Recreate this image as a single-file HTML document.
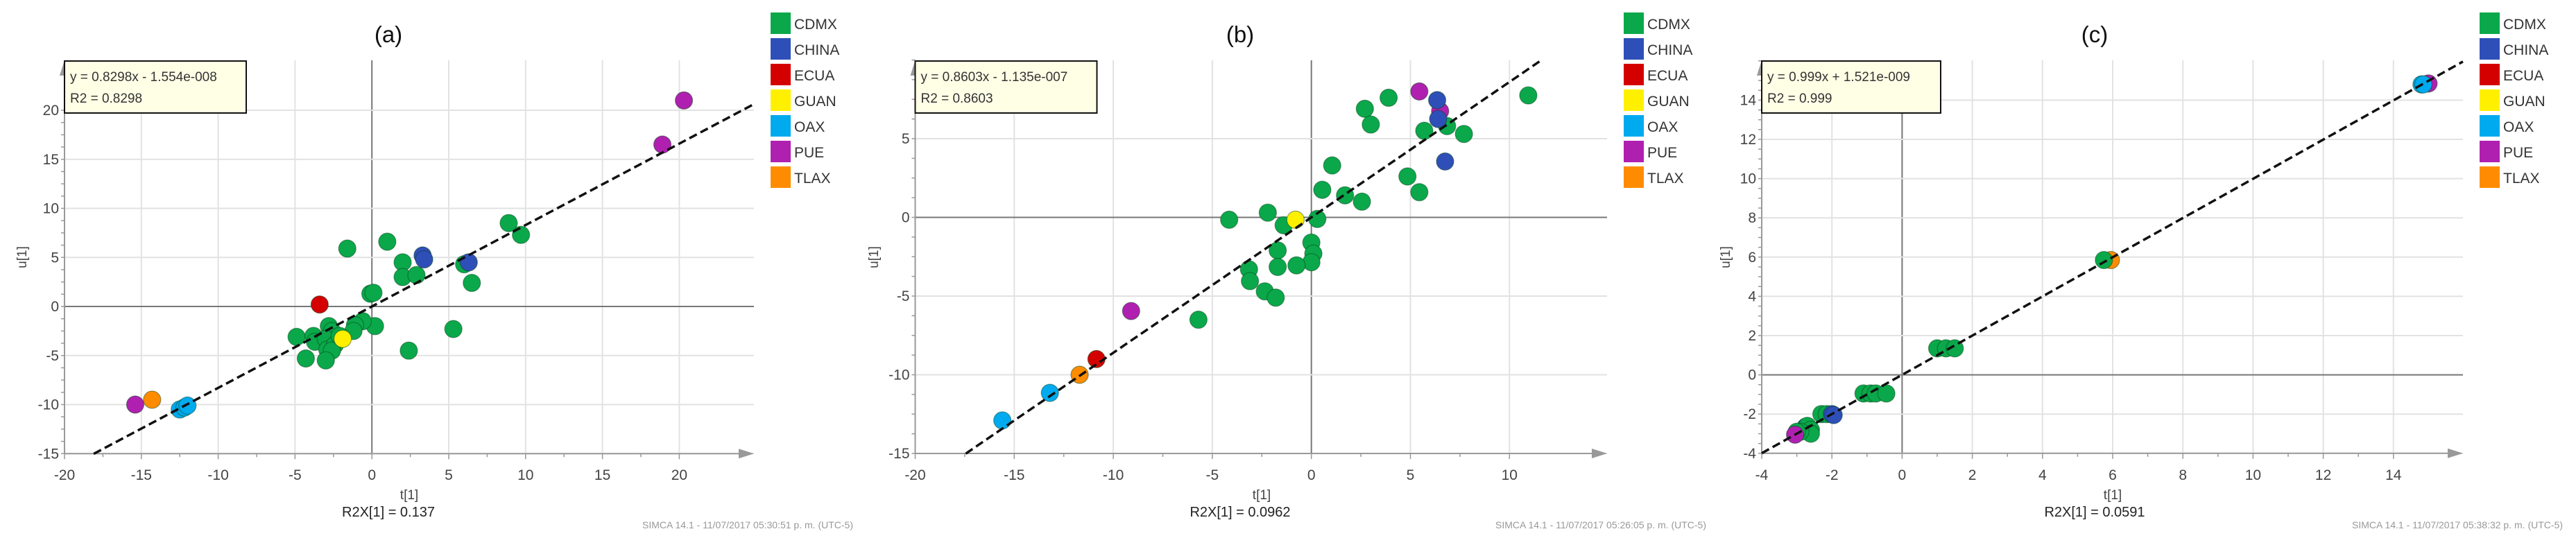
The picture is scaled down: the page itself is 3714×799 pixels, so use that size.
<!DOCTYPE html>
<html><head><meta charset="utf-8"><style>
html,body{margin:0;padding:0;background:#fff;width:3714px;height:799px;overflow:hidden}
svg{display:block}
text{font-family:"Liberation Sans",sans-serif}
</style></head><body>
<svg id="chart" width="3714" height="799" viewBox="0 0 3714 799" xmlns="http://www.w3.org/2000/svg"></svg>
<script>
const groupNames=["CDMX","CHINA","ECUA","GUAN","OAX","PUE","TLAX"];
const groupColors=["#0aa84a","#2f4fb8","#d40000","#fff000","#00aaee","#b020b0","#ff8c00"];

// Panel (a)
const aX=[-1.6,1.0,2.0,2.0,2.9,-0.1,0.1,6.0,6.5,8.9,9.7,5.3,2.4,0.2,-0.6,-1.1,-1.2,-2.8,-2.6,-4.9,-3.8,-3.7,-3.0,-2.9,-2.4,-2.6,-4.3,-3.0,-2.1, 3.3,3.4,6.3, -3.4, -1.9, -12.5,-12.2,-12.0, 20.3,18.9,-15.4, -14.3];
const aY=[5.9,6.6,4.5,3.0,3.2,1.3,1.4,4.3,2.4,8.5,7.3,-2.3,-4.5,-2.0,-1.5,-1.9,-2.5,-2.0,-2.5,-3.1,-3.0,-3.6,-3.3,-4.4,-3.9,-4.5,-5.3,-5.5,-3.0, 5.2,4.8,4.5, 0.2, -3.3, -10.5,-10.3,-10.1, 21,16.5,-10, -9.5];
const aG=[0,0,0,0,0,0,0,0,0,0,0,0,0,0,0,0,0,0,0,0,0,0,0,0,0,0,0,0,0, 1,1,1, 2, 3, 4,4,4, 5,5,5, 6];
const aXTicks=[-20,-15,-10,-5,0,5,10,15,20];
const aYTicks=[-15,-10,-5,0,5,10,15,20];

// Panel (b)
const bX=[10.95,3.9,2.7,3.0,5.7,6.85,7.7,1.05,4.85,5.45,0.55,1.7,2.55,-4.15,-2.2,-1.4,0.3,0.0,0.1,0.0,-0.75,-1.7,-1.7,-3.15,-3.1,-2.35,-1.8,-5.7, 5.45,6.5,-9.1, 6.35,6.4,6.75, -0.8, -10.85, -11.7, -13.2,-15.6];
const bY=[7.75,7.6,6.9,5.9,5.5,5.8,5.3,3.3,2.6,1.6,1.75,1.4,1.0,-0.15,0.3,-0.5,-0.1,-1.6,-2.3,-2.85,-3.05,-2.1,-3.15,-3.3,-4.05,-4.7,-5.1,-6.5, 8.0,6.75,-5.95, 7.45,6.25,3.55, -0.15, -9.0, -10.0, -11.15,-12.9];
const bG=[0,0,0,0,0,0,0,0,0,0,0,0,0,0,0,0,0,0,0,0,0,0,0,0,0,0,0,0, 5,5,5, 1,1,1, 3, 2, 6, 4,4];
const bXTicks=[-20,-15,-10,-5,0,5,10];
const bYTicks=[-15,-10,-5,0,5];

// Panel (c)
const cX=[15.0,14.8,14.85, 5.95,5.75, 1.0,1.25,1.5, -1.1,-0.9,-0.75,-0.45, -2.3,-2.15,-2.0,-1.95, -2.75,-2.7,-2.6,-2.6,-2.9,-3.0,-3.05];
const cY=[14.85,14.8,14.8, 5.85,5.85, 1.35,1.35,1.35, -0.95,-0.95,-0.95,-0.95, -2.0,-2.0,-2.0,-2.05, -2.65,-2.6,-2.8,-3.0,-2.9,-2.9,-3.05];
const cG=[5,4,4, 6,0, 0,0,0, 0,0,0,0, 0,0,1,1, 1,0,0,0,0,0,5];
const cXTicks=[-4,-2,0,2,4,6,8,10,12,14];
const cYTicks=[-4,-2,0,2,4,6,8,10,12,14];

const NS="http://www.w3.org/2000/svg";
const svg=document.getElementById('chart');
function mk(tag,attrs,parent,txt){const e=document.createElementNS(NS,tag);for(const k in attrs)e.setAttribute(k,attrs[k]);if(txt!==undefined)e.textContent=txt;(parent||svg).appendChild(e);return e;}

function panel(p){
  const g=mk('g',{});
  
  
  const sx=v=>p.x0+(v-p.xmin)*p.kx;
  const sy=v=>p.y0+(p.ymax0-v)*p.ky;
  const L=sx(p.xmin), R=p.right, T=87, B=sy(p.yaxis);
  // grid
  p.xt.forEach(v=>{const l=mk('line',{x1:sx(v),x2:sx(v),y1:T,y2:B,stroke:v===0?'#777':'#e2e2e2','stroke-width':v===0?2:2},g);});
  p.yt.forEach(v=>{const l=mk('line',{x1:L,x2:R,y1:sy(v),y2:sy(v),stroke:v===0?'#777':'#e2e2e2','stroke-width':2},g);});
  // axes
  const xa=mk('line',{x1:L,x2:R-14,y1:B,y2:B,stroke:'#999','stroke-width':2},g);
  
  mk('polygon',{points:`${R},${B} ${R-22},${B-7} ${R-22},${B+7}`,fill:'#999'},g);
  const ya=mk('line',{x1:L,x2:L,y1:T+10,y2:B,stroke:'#999','stroke-width':2},g);
  
  mk('polygon',{points:`${L},${T} ${L-7},${T+22} ${L+7},${T+22}`,fill:'#999'},g);
  // ticks
  const xs=p.xt[1]-p.xt[0], ys=p.yt[1]-p.yt[0];
  for(let v=p.xmin;v<=p.xmax+1e-9;v+=xs/2){const maj=Math.abs((v-p.xmin)/xs-Math.round((v-p.xmin)/xs))<1e-6;mk('line',{x1:sx(v),x2:sx(v),y1:B,y2:B+(maj?8:5),stroke:'#999','stroke-width':1.5},g);}
  for(let v=p.yaxis;v<=p.ymaxT+1e-9;v+=ys/4){mk('line',{x1:L-5,x2:L,y1:sy(v),y2:sy(v),stroke:'#999','stroke-width':1.5},g);}
  p.xt.forEach(v=>{const t=mk('text',{x:sx(v),y:692,'font-size':21,'text-anchor':'middle',fill:'#444'},g,String(v));});
  p.yt.forEach(v=>{const t=mk('text',{x:L-8,y:sy(v)+7,'font-size':21,'text-anchor':'end',fill:'#444'},g,String(v));});
  // points
  p.X.forEach((x,i)=>{const c=mk('circle',{cx:sx(x),cy:sy(p.Y[i]),r:12.5,fill:groupColors[p.G[i]],stroke:'rgba(0,60,20,0.45)','stroke-width':1.2},g);});
  // regression line
  const x1=p.lx0, x2=p.lx1;
  const rl=mk('line',{x1:sx(x1),y1:sy(p.slope*x1),x2:sx(x2),y2:sy(p.slope*x2),stroke:'#111','stroke-width':3.5,'stroke-dasharray':'12,6'},g);
  
  // equation box
  const bx=mk('g',{},g);
  mk('rect',{x:L,y:88,width:p.boxW,height:75,fill:'#ffffe6',stroke:'#111','stroke-width':2},bx);
  mk('text',{x:L+8,y:117,'font-size':19,fill:'#333'},bx,p.eq);
  mk('text',{x:L+8,y:148,'font-size':19,fill:'#333'},bx,p.r2);
  // titles
  const tt=mk('text',{x:p.tc,y:61,'font-size':33,'text-anchor':'middle',fill:'#111'},g,'('+p.id+')');
  const xl=mk('text',{x:p.tx,y:720,'font-size':19,'text-anchor':'middle',fill:'#444'},g,'t[1]');
  const r2x=mk('text',{x:p.tc,y:745,'font-size':20,'text-anchor':'middle',fill:'#222','font-family':'Liberation Mono, monospace'},g,p.r2x);
  const yl=mk('text',{x:0,y:0,'font-size':19,'text-anchor':'middle',fill:'#444',transform:`translate(${p.ulx},371) rotate(-90)`},g,'u[1]');
  const sm=mk('text',{x:p.simR,y:762,'font-size':14,'text-anchor':'end',fill:'#999'},g,p.simca);
  // legend
  groupNames.forEach((n,i)=>{const lg=mk('g',{},g);
    mk('rect',{x:p.lgx,y:18+i*37,width:29,height:31,fill:groupColors[i]},lg);
    mk('text',{x:p.lgx+34,y:42+i*37,'font-size':21,fill:'#333'},lg,n);});
}

panel({id:'a',X:aX,Y:aY,G:aG,xt:aXTicks,yt:aYTicks,xmin:-20,xmax:20,x0:93,kx:22.16,ymax0:20,y0:159,ky:14.15,yaxis:-15,ymaxT:20,right:1087,
  slope:0.8298,lx0:-18.1,lx1:24.8,boxW:262,eq:'y = 0.8298x - 1.554e-008',r2:'R2 = 0.8298',tc:560,tx:590,r2x:'R2X[1] = 0.137',ulx:38,simR:1230,
  simca:'SIMCA 14.1 - 11/07/2017 05:30:51 p. m. (UTC-5)',lgx:1111});
panel({id:'b',X:bX,Y:bY,G:bG,xt:bXTicks,yt:bYTicks,xmin:-20,xmax:10,x0:1319.5,kx:28.56,ymax0:5,y0:200,ky:22.7,yaxis:-15,ymaxT:10,right:2317,
  slope:0.8603,lx0:-17.45,lx1:11.6,boxW:262,eq:'y = 0.8603x - 1.135e-007',r2:'R2 = 0.8603',tc:1788,tx:1819,r2x:'R2X[1] = 0.0962',ulx:1266,simR:2460,
  simca:'SIMCA 14.1 - 11/07/2017 05:26:05 p. m. (UTC-5)',lgx:2341});
panel({id:'c',X:cX,Y:cY,G:cG,xt:cXTicks,yt:cYTicks,xmin:-4,xmax:14,x0:2540,kx:50.6,ymax0:14,y0:144.4,ky:28.3,yaxis:-4,ymaxT:16,right:3551,
  slope:0.999,lx0:-4,lx1:15.98,boxW:258,eq:'y = 0.999x + 1.521e-009',r2:'R2 = 0.999',tc:3020,tx:3046,r2x:'R2X[1] = 0.0591',ulx:2494,simR:3695,
  simca:'SIMCA 14.1 - 11/07/2017 05:38:32 p. m. (UTC-5)',lgx:3575});
</script>
</body></html>
